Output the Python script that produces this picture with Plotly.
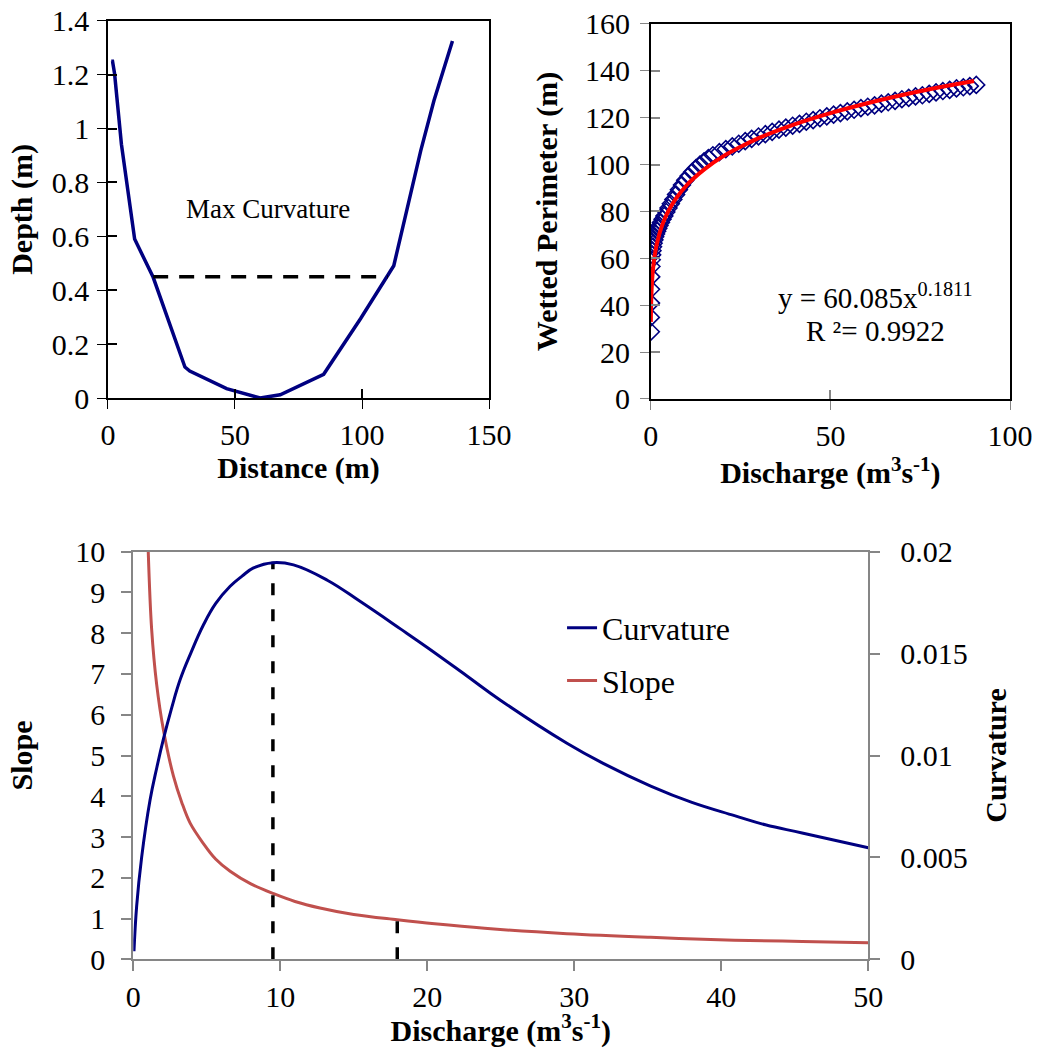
import plotly.graph_objects as go

# ---------------- data ----------------
# Top-left: channel cross-section
distance = [1.3, 1.8, 2.6, 5.3, 10.5, 16.4, 17.8, 30.3, 32.2, 46.7, 59.9, 67.8, 84.9, 99.4, 109.9, 112.5, 123.1, 128.3, 135.6]
depth = [1.25, 1.25, 1.204, 0.942, 0.590, 0.479, 0.448, 0.115, 0.100, 0.035, 0.0, 0.012, 0.088, 0.294, 0.448, 0.491, 0.917, 1.103, 1.325]
maxcurv_x = [17.8, 110.2]
maxcurv_depth = [0.45, 0.45]

# Top-right: wetted perimeter vs discharge
q_obs = [0.036, 0.05, 0.07, 0.10, 0.14, 0.2, 0.28, 0.38, 0.5, 0.65, 0.82, 1.02, 1.25, 1.5, 1.8, 2.1,
         2.45, 2.85, 3.3, 3.8, 4.35, 4.95, 5.6, 6.3, 7.05, 7.85, 8.7, 9.6, 10.55, 11.55, 12.6, 13.7,
         14.85, 16.05, 17.3, 19.1, 20.9, 22.7, 24.5, 26.3, 28.1, 30.0, 31.9, 33.8, 35.7, 37.6, 39.5,
         41.4, 43.3, 45.2, 47.1, 49.0, 50.9, 52.8, 54.7, 56.6, 58.5, 60.4, 62.3, 64.2, 66.1, 68.0,
         69.9, 71.8, 73.7, 75.6, 77.5, 79.4, 81.3, 83.2, 85.1, 87.0, 88.8, 90.6]
wp_obs = [28.7, 34.8, 40.9, 46.8, 52.1, 56.5, 59.4, 61.5, 63.3, 65.0, 66.5, 67.9, 69.2, 70.4, 71.6, 72.8,
          74.0, 75.3, 76.7, 78.1, 79.8, 81.5, 83.3, 85.1, 87.2, 89.3, 91.3, 93.3, 95.1, 96.9, 98.5, 100.0,
          101.4, 102.8, 104.0, 105.3, 106.6, 107.8, 108.9, 110.0, 111.0, 112.0, 113.0, 114.0, 114.9, 115.8, 116.6,
          117.4, 118.3, 119.0, 119.8, 120.6, 121.3, 122.0, 122.7, 123.4, 124.1, 124.7, 125.3, 126.0, 126.6, 127.2,
          127.9, 128.5, 129.1, 129.6, 130.2, 130.8, 131.4, 131.9, 132.5, 133.0, 133.5, 134.0]
# power trendline y = 60.085 x^0.1811 (values read at these discharges)
q_fit = [0.036, 0.05, 0.1, 0.2, 0.3, 0.6, 1, 1.5, 2, 3, 4, 5, 7, 10, 12, 15, 20, 25, 30, 40, 50, 60, 70, 80, 90]
wp_fit = [32.9, 34.9, 39.6, 44.9, 48.3, 54.8, 60.1, 64.7, 68.1, 73.3, 77.2, 80.4, 85.5, 91.2, 94.2, 98.1,
          103.4, 107.6, 111.3, 117.2, 122.0, 126.1, 129.7, 132.9, 135.7]

# Bottom: slope & curvature vs discharge
q_slope = [1.02, 1.25, 1.59, 2.05, 2.73, 3.3, 3.87, 4.77, 5.6, 6.59, 8.0, 9.55, 11.0, 12.7, 15.0, 17.96,
           20.5, 23.9, 29.5, 35.2, 40.9, 45.5, 50.0]
slope = [10.0, 8.1, 6.75, 5.63, 4.5, 3.85, 3.34, 2.84, 2.46, 2.16, 1.85, 1.61, 1.42, 1.26, 1.10, 0.97,
         0.87, 0.76, 0.63, 0.54, 0.47, 0.44, 0.41]
q_curv = [0.05, 0.23, 0.57, 1.14, 1.6, 2.05, 2.6, 3.18, 3.9, 4.77, 5.6, 6.59, 7.4, 8.18, 9.5, 10.9, 13.2,
          15.45, 18.2, 20.0, 22.7, 25.0, 29.5, 32.0, 35.2, 38.0, 40.9, 43.0, 45.5, 50.0]
curvature = [0.0004, 0.0026, 0.0050, 0.0078, 0.0094, 0.0108, 0.0123, 0.0137, 0.0150, 0.0164, 0.01745, 0.0183,
             0.0188, 0.0192, 0.01946, 0.01935, 0.0186, 0.01755, 0.0162, 0.0153, 0.0139, 0.0127, 0.0106,
             0.0096, 0.0085, 0.0077, 0.00705, 0.0066, 0.0062, 0.00547]
peak_q = [9.5, 9.5]
peak_slope = [0, 9.75]
thresh_q = [17.96, 17.96]
thresh_slope = [0, 0.97]

# ---------------- figure ----------------
FONT = "Liberation Serif, Times New Roman, serif"
NAVY = "#000080"
GRAY = "#868686"

fig = go.Figure()

fig.add_trace(go.Scatter(x=distance, y=depth, mode="lines", line=dict(color=NAVY, width=3.5),
                         xaxis="x", yaxis="y", showlegend=False))
fig.add_trace(go.Scatter(x=maxcurv_x, y=maxcurv_depth, mode="lines",
                         line=dict(color="black", width=3.5, dash="15px,11px"),
                         xaxis="x", yaxis="y", showlegend=False))

fig.add_trace(go.Scatter(x=q_obs, y=wp_obs, mode="markers",
                         marker=dict(symbol="diamond-open", size=13, color=NAVY, line=dict(width=1.6, color=NAVY)),
                         xaxis="x2", yaxis="y2", showlegend=False))
fig.add_trace(go.Scatter(x=q_fit, y=wp_fit, mode="lines", line=dict(color="#FF0000", width=4, shape="spline"),
                         xaxis="x2", yaxis="y2", showlegend=False))

fig.add_trace(go.Scatter(x=q_slope, y=slope, mode="lines", name="Slope",
                         line=dict(color="#C0504D", width=3, shape="spline", smoothing=1.0),
                         xaxis="x3", yaxis="y3", legendrank=2, legendgroup="s"))
fig.add_trace(go.Scatter(x=q_curv, y=curvature, mode="lines", name="Curvature",
                         line=dict(color=NAVY, width=3, shape="spline", smoothing=1.2),
                         xaxis="x3", yaxis="y4", legendrank=1, legendgroup="c"))
fig.add_trace(go.Scatter(x=peak_q, y=peak_slope, mode="lines",
                         line=dict(color="black", width=3.5, dash="12px,14px"),
                         xaxis="x3", yaxis="y3", showlegend=False))
fig.add_trace(go.Scatter(x=thresh_q, y=thresh_slope, mode="lines",
                         line=dict(color="black", width=3.5, dash="12px,14px"),
                         xaxis="x3", yaxis="y3", showlegend=False))

# invisible carriers for the inner half of the crossing tick marks on the top panels
fig.add_trace(go.Scatter(x=distance, y=depth, mode="lines", opacity=0, hoverinfo="skip",
                         xaxis="x5", yaxis="y5", showlegend=False))
fig.add_trace(go.Scatter(x=q_obs, y=wp_obs, mode="lines", opacity=0, hoverinfo="skip",
                         xaxis="x6", yaxis="y6", showlegend=False))

tickfont = dict(family=FONT, size=30, color="black")
titlefont = dict(family=FONT, size=30, color="black")

def ax(**kw):
    base = dict(showgrid=False, zeroline=False, showline=True, ticks="outside",
                tickfont=tickfont, automargin=False)
    base.update(kw)
    return base

def inner(**kw):
    base = dict(showgrid=False, zeroline=False, showline=False, ticks="inside", ticklen=9,
                tickwidth=1.5, showticklabels=False, automargin=False)
    base.update(kw)
    return base

fig.update_layout(
    width=1037, height=1048,
    margin=dict(l=0, r=0, t=0, b=0),
    paper_bgcolor="white", plot_bgcolor="white",
    font=dict(family=FONT, size=30, color="black"),
    xaxis=ax(domain=[0.1041, 0.4716], range=[0, 150], dtick=50, anchor="y",
             linecolor="black", linewidth=1.5, mirror=True, tickcolor="black", ticklen=9,
             ticklabelstandoff=0,
             title=dict(text="<b>Distance (m)</b>", font=titlefont, standoff=0)),
    yaxis=ax(domain=[0.6202, 0.9802], range=[0, 1.4], dtick=0.2, anchor="x",
             linecolor="black", linewidth=1.5, mirror=True, tickcolor="black", ticklen=9,
             ticklabelstandoff=2,
             title=dict(text="<b>Depth (m)</b>", font=titlefont, standoff=10)),
    xaxis5=inner(overlaying="x", anchor="y5", range=[0, 150], dtick=50, tickcolor="black"),
    yaxis5=inner(overlaying="y", anchor="x5", range=[0, 1.4], dtick=0.2, tickcolor="black"),
    xaxis2=ax(domain=[0.6275, 0.9740], range=[0, 100], dtick=50, anchor="y2",
              linecolor="black", linewidth=1.5, mirror=True, tickcolor=GRAY, ticklen=9,
              ticklabelstandoff=0,
              title=dict(text="<b>Discharge (m<sup>3</sup>s<sup>-1</sup>)</b>", font=titlefont, standoff=0)),
    yaxis2=ax(domain=[0.6193, 0.9771], range=[0, 160], dtick=20, anchor="x2",
              linecolor="black", linewidth=1.5, mirror=True, tickcolor=GRAY, ticklen=9,
              ticklabelstandoff=4,
              title=dict(text="<b>Wetted Perimeter (m)</b>", font=titlefont, standoff=18)),
    xaxis6=inner(overlaying="x2", anchor="y6", range=[0, 100], dtick=50, tickcolor=GRAY),
    yaxis6=inner(overlaying="y2", anchor="x6", range=[0, 160], dtick=20, tickcolor=GRAY),
    xaxis3=ax(domain=[0.1285, 0.8373], range=[0, 50], dtick=10, anchor="y3",
              linecolor=GRAY, linewidth=2, mirror=True, tickcolor=GRAY, ticklen=10, tickwidth=2,
              ticklabelstandoff=0,
              title=dict(text="<b>Discharge (m<sup>3</sup>s<sup>-1</sup>)</b>", font=titlefont, standoff=9)),
    yaxis3=ax(domain=[0.0846, 0.4736], range=[0, 10], dtick=1, anchor="x3",
              linecolor=GRAY, linewidth=2, tickcolor=GRAY, ticklen=10, tickwidth=2,
              ticklabelstandoff=10,
              title=dict(text="<b>Slope</b>", font=titlefont, standoff=34)),
    yaxis4=ax(domain=[0.0846, 0.4736], range=[0, 0.02], dtick=0.005, anchor="x3",
              overlaying="y3", side="right",
              linecolor=GRAY, linewidth=2, tickcolor=GRAY, ticklen=10, tickwidth=2,
              ticklabelstandoff=14,
              title=dict(text="<b>Curvature</b>", font=titlefont, standoff=18)),
    legend=dict(x=0.542, y=0.427, xanchor="left", yanchor="top",
                font=dict(family=FONT, size=32, color="black"),
                bgcolor="rgba(0,0,0,0)", traceorder="grouped", tracegroupgap=8),
    annotations=[
        dict(text="Max Curvature", x=63, y=0.70, xref="x", yref="y", showarrow=False,
             font=dict(family=FONT, size=27, color="black")),
        dict(text="y = 60.085x<sup>0.1811</sup>", x=62.5, y=44, xref="x2", yref="y2",
             showarrow=False, font=dict(family=FONT, size=29, color="black")),
        dict(text="R ²= 0.9922", x=62.5, y=29, xref="x2", yref="y2", showarrow=False,
             font=dict(family=FONT, size=29, color="black")),
    ],
)

fig.write_html("out.html")
